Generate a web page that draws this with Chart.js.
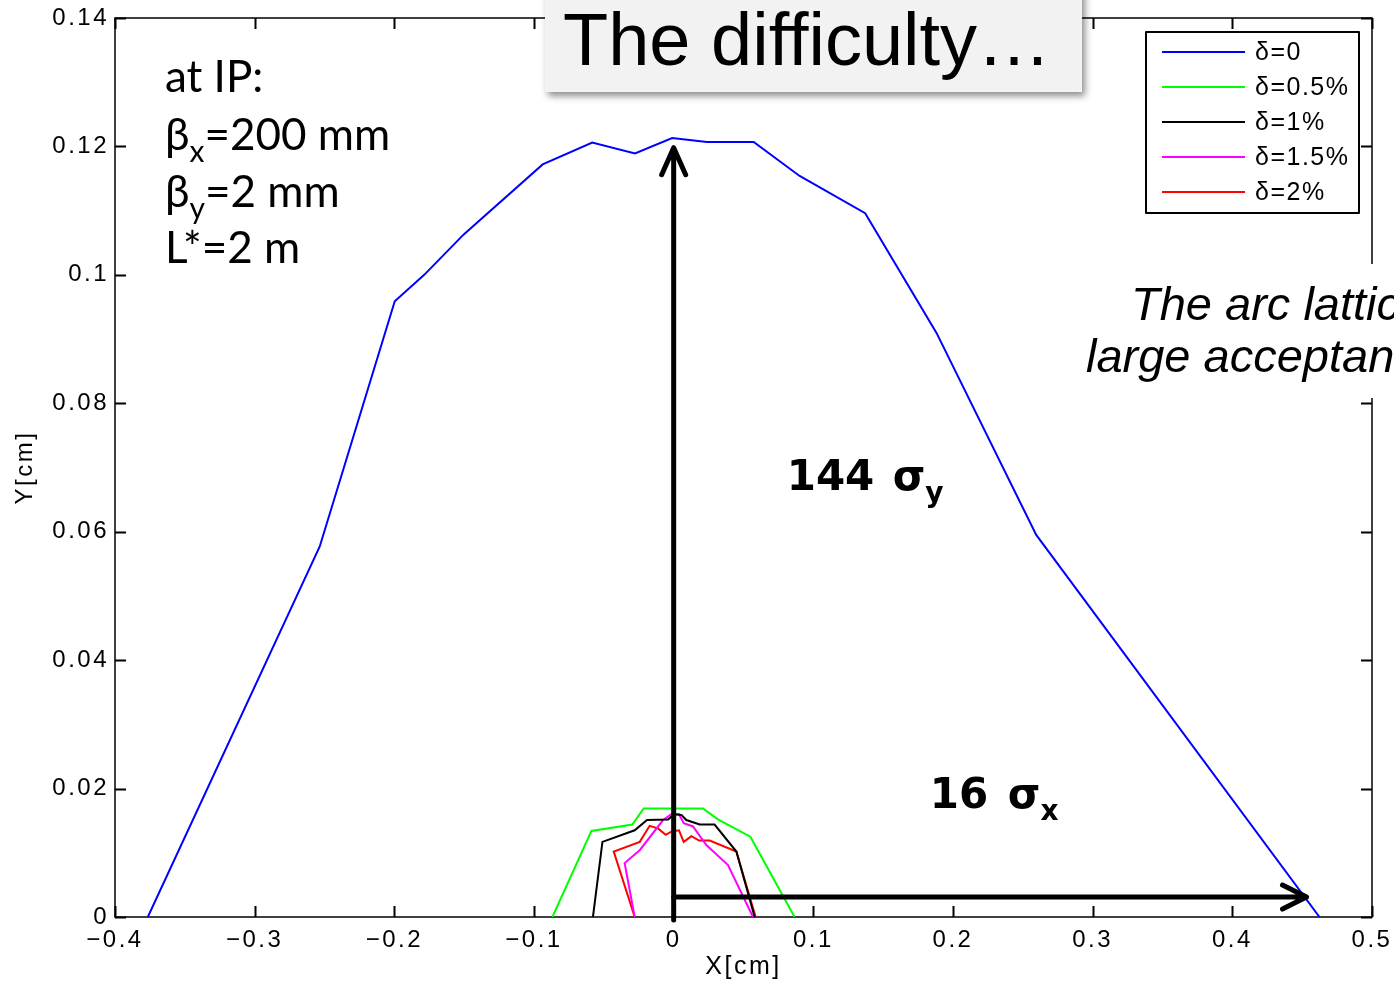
<!DOCTYPE html>
<html>
<head>
<meta charset="utf-8">
<title>The difficulty…</title>
<script src="https://cdn.jsdelivr.net/npm/chart.js@4.4.0/dist/chart.umd.min.js"></script>
<style>
  html, body { margin: 0; padding: 0; background: #fff; overflow: hidden; }
  canvas { display: block; }
</style>
</head>
<body>
<canvas id="aperture" width="1394" height="984"></canvas>
<script>
// dynamic aperture at the IP, one curve per momentum deviation
const deltaLabels = ['δ=0', 'δ=0.5%', 'δ=1%', 'δ=1.5%', 'δ=2%'];
const lineColors = ['#0000ff', '#00ff00', '#000000', '#ff00ff', '#ff0000'];

const x0 = [-0.3765, -0.2534, -0.1997, -0.1786, -0.1503, -0.0938, -0.0583, -0.0277, -0.0011, 0.0238, 0.0573, 0.0902, 0.1371, 0.1881, 0.2596, 0.4624];
const y0 = [0, 0.0577, 0.0959, 0.1000, 0.1063, 0.1172, 0.1206, 0.1189, 0.1213, 0.1207, 0.1207, 0.1154, 0.1096, 0.0910, 0.0595, 0];

const x05 = [-0.0868, -0.0589, -0.0296, -0.0215, 0.0210, 0.0317, 0.0549, 0.0866];
const y05 = [0, 0.0134, 0.0144, 0.0169, 0.0169, 0.0152, 0.0125, 0];

const x10 = [-0.0578, -0.0510, -0.0279, -0.0191, -0.0040, 0.0007, 0.0055, 0.0091, 0.0186, 0.0293, 0.0449, 0.0580];
const y10 = [0, 0.0117, 0.0135, 0.0151, 0.0152, 0.0160, 0.0159, 0.0151, 0.0144, 0.0144, 0.0102, 0];

const x15 = [-0.0279, -0.0351, -0.0243, -0.0076, -0.0017, 0.0038, 0.0072, 0.0138, 0.0234, 0.0389, 0.0568];
const y15 = [0, 0.0084, 0.0104, 0.0151, 0.0160, 0.0160, 0.0146, 0.0141, 0.0112, 0.0081, 0];

const x20 = [-0.0279, -0.0429, -0.0243, -0.0172, -0.0112, -0.0057, -0.0017, 0.0038, 0.0072, 0.0127, 0.0182, 0.0258, 0.0449, 0.0587];
const y20 = [0, 0.0102, 0.0117, 0.0142, 0.0138, 0.0128, 0.0133, 0.0135, 0.0117, 0.0126, 0.0119, 0.0119, 0.0102, 0];

const xTicks = [-0.4, -0.3, -0.2, -0.1, 0, 0.1, 0.2, 0.3, 0.4, 0.5];
const yTicks = [0, 0.02, 0.04, 0.06, 0.08, 0.1, 0.12, 0.14];

const seriesX = [x0, x05, x10, x15, x20];
const seriesY = [y0, y05, y10, y15, y20];

const datasets = deltaLabels.map((label, i) => ({
  label,
  data: seriesX[i].map((x, j) => ({ x, y: seriesY[i][j] })),
  borderColor: lineColors[i],
  borderWidth: 2,
  pointRadius: 0,
  showLine: true,
  tension: 0
}));

const tickFmt = v => String(+v.toFixed(2)).replace('-', '\u2212');

// wider letter spacing for the axis text (matlab style)
const spacingPlugin = {
  id: 'spacing',
  beforeDraw(chart) { chart.ctx.letterSpacing = '2.5px'; },
  beforeDatasetsDraw(chart) { chart.ctx.letterSpacing = '0px'; }
};

// box frame with inward ticks on all four sides
const framePlugin = {
  id: 'frame',
  beforeDatasetsDraw(chart) {
    const { ctx, chartArea: a, scales: { x, y } } = chart;
    ctx.save();
    ctx.strokeStyle = '#000';
    ctx.lineWidth = 1.5;
    ctx.strokeRect(a.left, a.top, a.right - a.left, a.bottom - a.top);
    ctx.lineWidth = 2;
    ctx.beginPath();
    xTicks.forEach(v => {
      const px = Math.round(x.getPixelForValue(v)) + 0.5;
      ctx.moveTo(px, a.bottom); ctx.lineTo(px, a.bottom - 11);
      ctx.moveTo(px, a.top); ctx.lineTo(px, a.top + 11);
    });
    yTicks.forEach(v => {
      const py = Math.round(y.getPixelForValue(v)) + 0.5;
      ctx.moveTo(a.left, py); ctx.lineTo(a.left + 11, py);
      ctx.moveTo(a.right, py); ctx.lineTo(a.right - 11, py);
    });
    ctx.stroke();
    ctx.restore();
  }
};

function subText(ctx, main, sub, left, base, size, subSize, family, weight) {
  ctx.font = `${weight} ${size}px ${family}`;
  ctx.fillText(main, left, base);
  const w = ctx.measureText(main).width;
  ctx.font = `${weight} ${subSize}px ${family}`;
  ctx.fillText(sub, left + w, base + size * 0.28);
  return left + w + ctx.measureText(sub).width;
}

// arrows, labels, title box, legend
const overlayPlugin = {
  id: 'overlay',
  afterDraw(chart) {
    const { ctx, scales: { x, y } } = chart;
    ctx.save();
    ctx.letterSpacing = '0px';

    // vertical arrow: 144 sigma_y
    ctx.strokeStyle = '#000';
    ctx.lineWidth = 5;
    ctx.lineCap = 'round';
    ctx.lineJoin = 'round';
    const ax = x.getPixelForValue(0);
    const ay0 = y.getPixelForValue(0) + 3;
    const ay1 = y.getPixelForValue(0.1198);
    ctx.beginPath();
    ctx.moveTo(ax, ay0); ctx.lineTo(ax, ay1 + 2);
    ctx.moveTo(ax - 12, ay1 + 27); ctx.lineTo(ax, ay1); ctx.lineTo(ax + 12, ay1 + 27);
    ctx.stroke();

    // horizontal arrow: 16 sigma_x
    const hy = y.getPixelForValue(0.0031);
    const hx1 = x.getPixelForValue(0.4531);
    ctx.beginPath();
    ctx.moveTo(ax, hy); ctx.lineTo(hx1 - 2, hy);
    ctx.moveTo(hx1 - 24, hy - 12); ctx.lineTo(hx1, hy); ctx.lineTo(hx1 - 24, hy + 12);
    ctx.stroke();

    ctx.fillStyle = '#000';
    ctx.textBaseline = 'alphabetic';
    ctx.textAlign = 'left';
    const bold = '"DejaVu Sans", Verdana, sans-serif';
    let tx = x.getPixelForValue(0.0809), ty = y.getPixelForValue(0.0665);
    ctx.font = `bold 42px ${bold}`;
    ctx.fillText('144', tx, ty);
    subText(ctx, 'σ', 'y', tx + 106, ty, 42, 28, bold, 'bold');
    tx = x.getPixelForValue(0.1833); ty = y.getPixelForValue(0.0170);
    ctx.font = `bold 42px ${bold}`;
    ctx.fillText('16', tx, ty);
    subText(ctx, 'σ', 'x', tx + 78, ty, 42, 28, bold, 'bold');

    // IP parameters
    const cal = 'Lato, "Open Sans", sans-serif';
    ctx.font = `44px ${cal}`;
    ctx.fillText('at IP:', 165, 92);
    let e = subText(ctx, 'β', 'x', 165, 150, 44, 30, cal, 'normal');
    ctx.font = `44px ${cal}`; ctx.fillText('=200 mm', e, 150);
    e = subText(ctx, 'β', 'y', 165, 207, 44, 30, cal, 'normal');
    ctx.font = `44px ${cal}`; ctx.fillText('=2 mm', e, 207);
    ctx.fillText('L*=2 m', 165, 263);

    // slide text on the right, hiding the axis behind it
    ctx.fillStyle = '#fff';
    ctx.fillRect(1080, 264, 314, 134);
    ctx.fillStyle = '#000';
    ctx.font = 'italic 47px "Liberation Sans", Arial, sans-serif';
    ctx.fillText('The arc lattice', 1131, 320);
    ctx.fillText('large acceptance', 1086, 372);

    // title box with drop shadow
    ctx.save();
    ctx.shadowColor = 'rgba(0,0,0,0.45)';
    ctx.shadowBlur = 7;
    ctx.shadowOffsetX = 3;
    ctx.shadowOffsetY = 4;
    ctx.fillStyle = '#f2f2f2';
    ctx.fillRect(545, -10, 537, 102);
    ctx.restore();
    ctx.fillStyle = '#000';
    ctx.font = '74px "Liberation Sans", Arial, sans-serif';
    ctx.fillText('The difficulty…', 563, 65);

    // legend
    ctx.fillStyle = '#fff';
    ctx.fillRect(1146, 32, 213, 181);
    ctx.strokeStyle = '#000';
    ctx.lineWidth = 2;
    ctx.lineCap = 'butt';
    ctx.strokeRect(1146, 32, 213, 181);
    ctx.font = '25px "Liberation Sans", Arial, sans-serif';
    ctx.letterSpacing = '1.5px';
    ctx.textBaseline = 'middle';
    deltaLabels.forEach((lab, i) => {
      const ly = 52 + i * 35;
      ctx.strokeStyle = lineColors[i];
      ctx.beginPath();
      ctx.moveTo(1162, ly); ctx.lineTo(1245, ly);
      ctx.stroke();
      ctx.fillStyle = '#000';
      ctx.fillText(lab, 1255, ly + 1);
    });

    ctx.restore();
  }
};

const tickFont = { family: '"Liberation Sans", Arial, sans-serif', size: 24 };

new Chart(document.getElementById('aperture'), {
  type: 'scatter',
  data: { datasets },
  options: {
    responsive: false,
    animation: false,
    devicePixelRatio: 1,
    layout: { padding: { top: 18, right: 22, left: 0, bottom: 0 } },
    plugins: { legend: { display: false }, tooltip: { enabled: false } },
    scales: {
      x: {
        type: 'linear',
        min: -0.4,
        max: 0.5,
        afterFit: s => { s.height = 67; s.paddingLeft = 0; s.paddingRight = 0; },
        afterBuildTicks: s => { s.ticks = xTicks.map(v => ({ value: v })); },
        ticks: { color: '#000', font: tickFont, padding: 9, maxRotation: 0, autoSkip: false, callback: tickFmt },
        grid: { display: false, drawTicks: false },
        border: { display: false },
        title: { display: true, text: 'X[cm]', color: '#000', font: { family: tickFont.family, size: 25 }, padding: { top: 0, bottom: 2 } }
      },
      y: {
        type: 'linear',
        min: 0,
        max: 0.14,
        afterFit: s => { s.width = 115; s.paddingTop = 0; s.paddingBottom = 0; },
        afterBuildTicks: s => { s.ticks = yTicks.map(v => ({ value: v })); },
        ticks: { color: '#000', font: tickFont, padding: 6, autoSkip: false, callback: tickFmt },
        grid: { display: false, drawTicks: false },
        border: { display: false },
        title: { display: true, text: 'Y[cm]', color: '#000', font: { family: tickFont.family, size: 24 }, padding: { top: 11, bottom: 0 } }
      }
    }
  },
  plugins: [spacingPlugin, framePlugin, overlayPlugin]
});
</script>
</body>
</html>
